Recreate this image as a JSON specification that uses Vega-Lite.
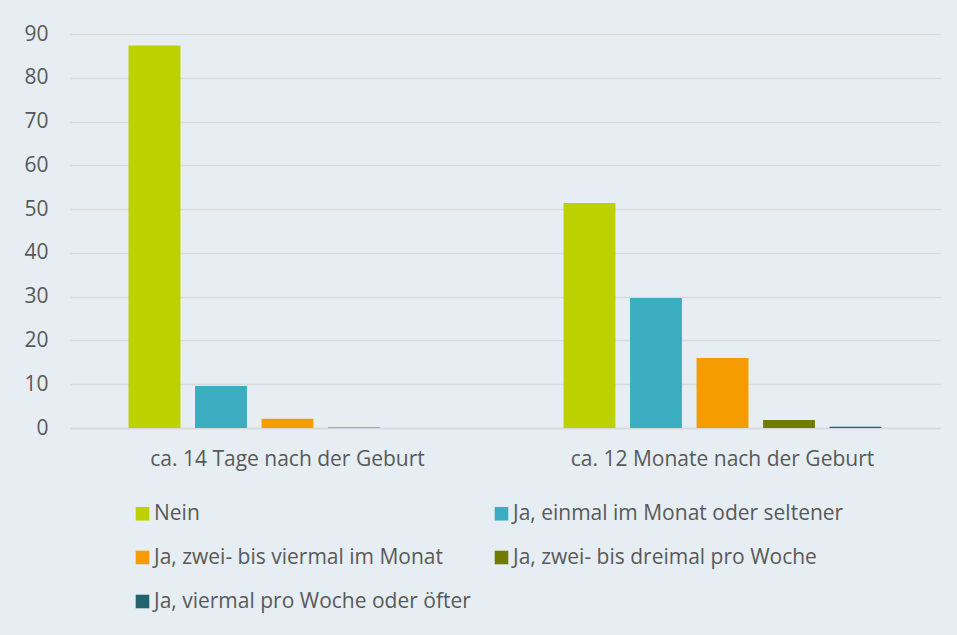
{
  "$schema": "https://vega.github.io/schema/vega-lite/v6.json",
  "width": 870,
  "height": 394,
  "autosize": "none",
  "padding": {"left": 70, "top": 34, "right": 17, "bottom": 207},
  "background": "#e6eef3",
  "data": {
    "values": [
      {"zeit": "ca. 14 Tage nach der Geburt", "antwort": "Nein", "wert": 87.4},
      {"zeit": "ca. 14 Tage nach der Geburt", "antwort": "Ja, einmal im Monat oder seltener", "wert": 9.6},
      {"zeit": "ca. 14 Tage nach der Geburt", "antwort": "Ja, zwei- bis viermal im Monat", "wert": 2.1},
      {"zeit": "ca. 14 Tage nach der Geburt", "antwort": "Ja, zwei- bis dreimal pro Woche", "wert": 0.1},
      {"zeit": "ca. 14 Tage nach der Geburt", "antwort": "Ja, viermal pro Woche oder öfter", "wert": 0},
      {"zeit": "ca. 12 Monate nach der Geburt", "antwort": "Nein", "wert": 51.4},
      {"zeit": "ca. 12 Monate nach der Geburt", "antwort": "Ja, einmal im Monat oder seltener", "wert": 29.7},
      {"zeit": "ca. 12 Monate nach der Geburt", "antwort": "Ja, zwei- bis viermal im Monat", "wert": 16.0},
      {"zeit": "ca. 12 Monate nach der Geburt", "antwort": "Ja, zwei- bis dreimal pro Woche", "wert": 1.8},
      {"zeit": "ca. 12 Monate nach der Geburt", "antwort": "Ja, viermal pro Woche oder öfter", "wert": 0.3}
    ]
  },
  "mark": {"type": "bar"},
  "encoding": {
    "x": {
      "field": "zeit",
      "type": "nominal",
      "sort": ["ca. 14 Tage nach der Geburt", "ca. 12 Monate nach der Geburt"],
      "scale": {"paddingInner": 0, "paddingOuter": 0},
      "axis": {
        "title": null,
        "labelAngle": 0,
        "ticks": false,
        "domainColor": "#d9d9d9",
        "domainWidth": 1.5,
        "labelFont": "Open Sans",
        "labelFontSize": 21,
        "labelColor": "#595959",
        "labelPadding": 20,
        "labelLimit": 500
      }
    },
    "xOffset": {
      "field": "antwort",
      "type": "nominal",
      "sort": ["Nein", "Ja, einmal im Monat oder seltener", "Ja, zwei- bis viermal im Monat", "Ja, zwei- bis dreimal pro Woche", "Ja, viermal pro Woche oder öfter"],
      "scale": {"paddingInner": 0.22, "paddingOuter": 0.88}
    },
    "y": {
      "field": "wert",
      "type": "quantitative",
      "scale": {"domain": [0, 90]},
      "axis": {
        "title": null,
        "values": [0, 10, 20, 30, 40, 50, 60, 70, 80, 90],
        "domain": false,
        "ticks": false,
        "gridColor": "#d9d9d9",
        "gridWidth": 1.5,
        "labelFont": "Open Sans",
        "labelFontSize": 21,
        "labelColor": "#595959",
        "labelPadding": 22
      }
    },
    "color": {
      "field": "antwort",
      "type": "nominal",
      "scale": {
        "domain": ["Nein", "Ja, einmal im Monat oder seltener", "Ja, zwei- bis viermal im Monat", "Ja, zwei- bis dreimal pro Woche", "Ja, viermal pro Woche oder öfter"],
        "range": ["#bdd100", "#3aaec0", "#f59c00", "#717b00", "#23636d"]
      },
      "legend": {
        "title": null,
        "orient": "none",
        "legendX": 62,
        "legendY": 469,
        "direction": "horizontal",
        "columns": 2,
        "columnPadding": 20,
        "rowPadding": 22,
        "symbolType": "square",
        "symbolSize": 185,
        "symbolStrokeWidth": 0,
        "symbolOpacity": 1,
        "labelFont": "Open Sans",
        "labelFontSize": 21,
        "labelColor": "#595959",
        "labelOffset": 1,
        "labelLimit": 500
      }
    }
  },
  "config": {
    "view": {"stroke": null}
  }
}
